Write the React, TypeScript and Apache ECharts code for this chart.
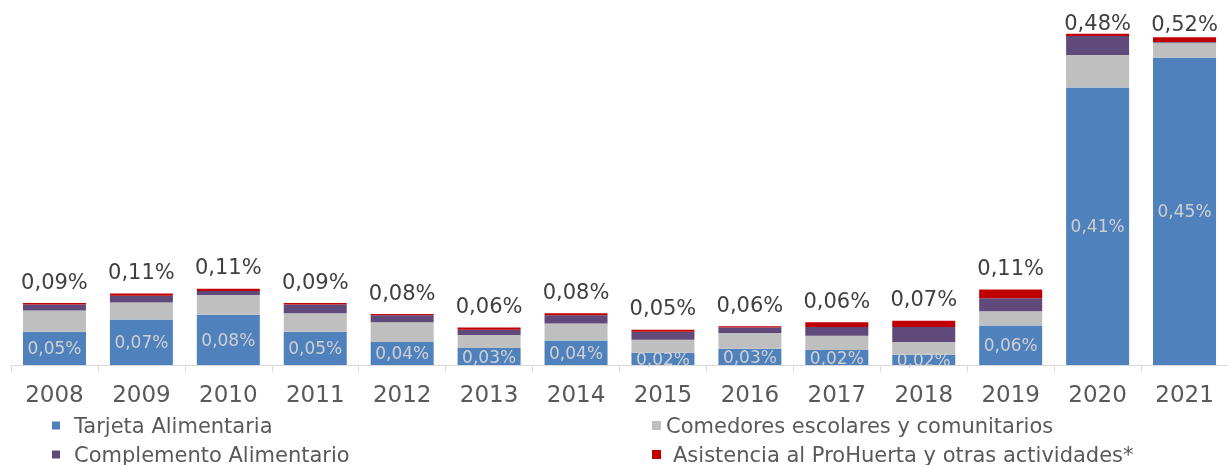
import React, { useEffect, useRef } from "react";
import * as echarts from "echarts";

const years = ["2008", "2009", "2010", "2011", "2012", "2013", "2014", "2015", "2016", "2017", "2018", "2019", "2020", "2021"];
const tarjeta = [0.049, 0.067, 0.074, 0.049, 0.034, 0.025, 0.036, 0.018, 0.024, 0.022, 0.015, 0.058, 0.408, 0.452];
const comedores = [0.031, 0.025, 0.029, 0.027, 0.029, 0.019, 0.025, 0.019, 0.023, 0.021, 0.019, 0.021, 0.048, 0.022];
const complemento = [0.009, 0.010, 0.006, 0.013, 0.010, 0.008, 0.012, 0.012, 0.008, 0.013, 0.022, 0.019, 0.028, 0.001];
const asistencia = [0.002, 0.003, 0.003, 0.002, 0.002, 0.003, 0.003, 0.003, 0.002, 0.007, 0.009, 0.013, 0.003, 0.007];
const tarjetaLabels = ["0,05%", "0,07%", "0,08%", "0,05%", "0,04%", "0,03%", "0,04%", "0,02%", "0,03%", "0,02%", "0,02%", "0,06%", "0,41%", "0,45%"];
const totalLabels = ["0,09%", "0,11%", "0,11%", "0,09%", "0,08%", "0,06%", "0,08%", "0,05%", "0,06%", "0,06%", "0,07%", "0,11%", "0,48%", "0,52%"];
const totalLabelDistance = [11, 11, 11, 11, 11, 11, 11, 11, 11, 11, 11, 11, 0, 3];

const FONT = "DejaVu Sans";

export default function App() {
  const ref = useRef<HTMLDivElement>(null);
  useEffect(() => {
    if (!ref.current) return;
    const chart = echarts.init(ref.current, null, { renderer: "svg" });
    const legendText = { color: "#595959", fontSize: 21, fontFamily: FONT, lineHeight: 20 };
    chart.setOption({
      animation: false,
      grid: { left: 11, top: 25, width: 1230, height: 340 },
      xAxis: {
        type: "category",
        data: years,
        axisLine: { lineStyle: { color: "#d9d9d9", width: 1 } },
        axisTick: { show: true, length: 7, lineStyle: { color: "#d9d9d9" } },
        axisLabel: { color: "#595959", fontSize: 23, fontFamily: FONT, margin: 17 },
      },
      yAxis: { type: "value", min: 0, max: 0.5, show: false, splitLine: { show: false } },
      legend: [
        {
          left: 52,
          top: 415,
          height: 60,
          padding: 0,
          orient: "vertical",
          itemWidth: 8,
          itemHeight: 8,
          itemGap: 8,
          icon: "rect",
          data: ["Tarjeta Alimentaria", "Complemento Alimentario"],
          textStyle: { ...legendText, padding: [0, 0, 0, 9] },
        },
        {
          left: 652,
          top: 415,
          height: 60,
          padding: 0,
          orient: "vertical",
          itemWidth: 9,
          itemHeight: 9,
          itemGap: 8,
          icon: "rect",
          data: [
            { name: "Comedores escolares y comunitarios", textStyle: { ...legendText, padding: [0, 0, 0, 0] } },
            { name: "Asistencia al ProHuerta y otras actividades*", textStyle: { ...legendText, padding: [0, 0, 0, 7] } },
          ],
          textStyle: legendText,
        },
      ],
      series: [
        {
          name: "Tarjeta Alimentaria",
          type: "bar",
          stack: "t",
          barWidth: 63,
          itemStyle: { color: "#4F81BD" },
          data: tarjeta,
          label: {
            show: true,
            position: "inside",
            color: "#d0d0d0",
            fontSize: 17,
            fontFamily: FONT,
            formatter: (p: any) => tarjetaLabels[p.dataIndex],
          },
        },
        {
          name: "Comedores escolares y comunitarios",
          type: "bar",
          stack: "t",
          itemStyle: { color: "#BFBFBF" },
          data: comedores,
        },
        {
          name: "Complemento Alimentario",
          type: "bar",
          stack: "t",
          itemStyle: { color: "#604A7B" },
          data: complemento,
        },
        {
          name: "Asistencia al ProHuerta y otras actividades*",
          type: "bar",
          stack: "t",
          itemStyle: { color: "#C00000" },
          data: asistencia.map((v, i) => ({
            value: v,
            label: {
              show: true,
              position: "top",
              distance: totalLabelDistance[i],
              color: "#404040",
              fontSize: 21,
              fontFamily: FONT,
              formatter: () => totalLabels[i],
            },
          })),
        },
      ],
    });
    return () => chart.dispose();
  }, []);
  return <div ref={ref} style={{ position: "fixed", left: 0, top: 0, width: 1228, height: 465 }} />;
}
